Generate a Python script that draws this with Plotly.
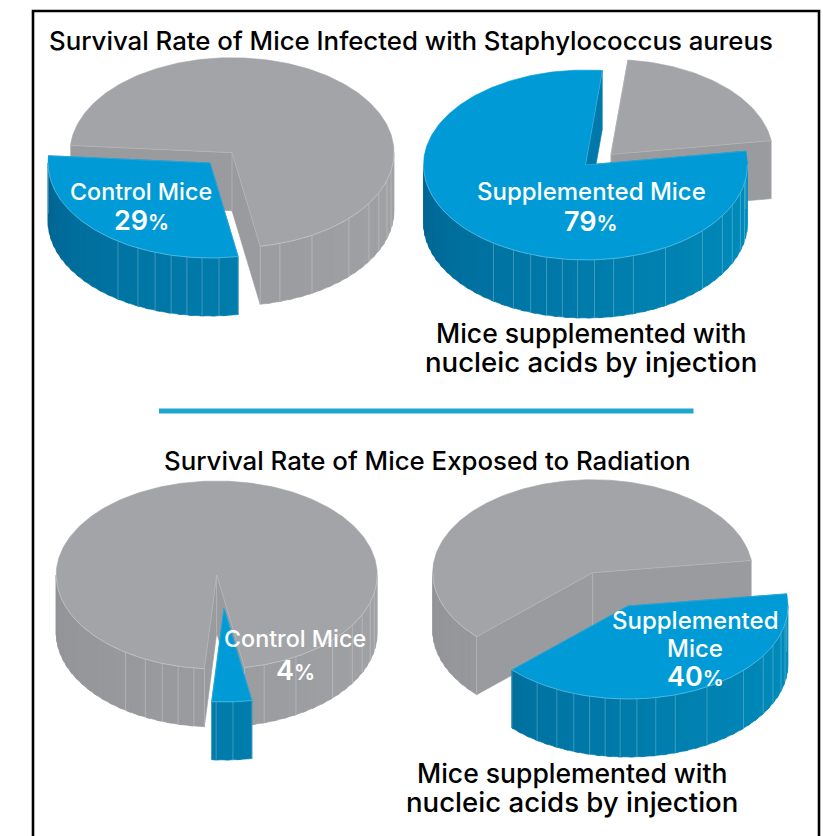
import numpy as np
import plotly.graph_objects as go

# Survival percentages for each panel
PANEL_NAMES = ["Control Mice", "Supplemented Mice", "Control Mice", "Supplemented Mice"]
SURVIVAL_PCT = [29, 79, 4, 40]

# Drawing geometry, in canvas pixels
WIDTH, HEIGHT = 823, 836
RADIUS_X = [162.0, 162.0, 160.5, 160.0]
RADIUS_Y = [95.0, 95.0, 94.0, 93.0]
DEPTH = 58.0
SLICE_START_DEG = [170, 81.6, 170, 82.5]
REST_CENTER = [(232, 152.7), (611, 154.5), (216.7, 575), (592.7, 572.7)]
SLICE_CENTER = [(210, 163), (585.5, 165), (224, 608), (628, 606)]

# Rim seams, degrees either side of the front of a pie
SEAM_DEG = [-34.6, -26.4, -19.8, -13.9, -8.2, -2.8, 3.2, 10, 17.2, 29.6, 46.2, 57.7, 65, 73, 79]

BLUE = {"top": "#009bd6", "face": "#0079aa", "dark": (0, 98, 144), "light": (0, 142, 190)}
GREY = {"top": "#a3a4a7", "face": "#9a9b9e", "dark": (146, 147, 151), "light": (161, 162, 165)}

TEXT_FONT = "Inter"


def pct_label(value):
    return f"{value}<span style='font-size:21px'>%</span>"


TEXT_ITEMS = [
    ("Survival Rate of Mice Infected with Staphylococcus aureus", 411, 40, 25.8, "black", 550),
    (PANEL_NAMES[0], 141, 191.5, 23.3, "white", 500),
    (pct_label(SURVIVAL_PCT[0]), 141, 220.5, 27, "white", 600),
    (PANEL_NAMES[1], 591, 191.5, 24, "white", 500),
    (pct_label(SURVIVAL_PCT[1]), 591, 221.5, 27, "white", 600),
    ("Mice supplemented with", 591, 333, 26.5, "black", 550),
    ("nucleic acids by injection", 591, 362, 27.6, "black", 550),
    ("Survival Rate of Mice Exposed to Radiation", 427, 460, 25.8, "black", 550),
    (PANEL_NAMES[2], 295, 638.5, 23.3, "white", 500),
    (pct_label(SURVIVAL_PCT[2]), 295, 670.5, 27, "white", 600),
    ("Supplemented", 695, 620.5, 24, "white", 500),
    ("Mice", 695, 648.5, 24, "white", 500),
    (pct_label(SURVIVAL_PCT[3]), 695, 676.5, 27, "white", 600),
    ("Mice supplemented with", 572, 773, 26.5, "black", 550),
    ("nucleic acids by injection", 572, 802, 27.6, "black", 550),
]


def rim_point(center, radii, deg, drop=0.0):
    """Point on the pie's ellipse; degrees run clockwise from the back."""
    a = np.radians(deg)
    return center[0] + radii[0] * np.sin(a), center[1] - radii[1] * np.cos(a) + drop


def polygon(xs, ys, color):
    return go.Scatter(x=list(xs), y=list(ys), mode="lines", fill="toself", fillcolor=color,
                      line=dict(color=color, width=0.6), hoverinfo="skip", showlegend=False)


def stroke(xs, ys, alpha, width=0.8):
    return go.Scatter(x=list(xs), y=list(ys), mode="lines", hoverinfo="skip", showlegend=False,
                      line=dict(color=f"rgba(255,255,255,{alpha})", width=width))


def front_spans(start, end):
    """Parts of a start..end arc that face the viewer."""
    spans = []
    for lo, hi in ((90, 270), (450, 630)):
        a, b = max(start, lo), min(end, hi)
        if b > a:
            spans.append((a, b))
    return spans


def rim_color(deg, palette):
    t = (270 - ((deg - 90) % 360 + 90)) / 180
    t = float(np.clip(t, 0, 1)) ** 0.8
    r, g, b = [d + (l - d) * t for d, l in zip(palette["dark"], palette["light"])]
    return f"rgb({r:.0f},{g:.0f},{b:.0f})"


def wedge_traces(center, radii, start, share, palette):
    end = start + share / 100 * 360
    out = []

    # Cut faces along the two straight edges
    for edge in (start, end):
        cx, cy = rim_point(center, radii, edge)
        out.append(polygon([center[0], cx, cx, center[0], center[0]],
                           [center[1], cy, cy + DEPTH, center[1] + DEPTH, center[1]],
                           palette["face"]))

    # Outer wall, shaded in narrow overlapping strips from right to left
    for a, b in front_spans(start, end):
        edges = np.append(np.arange(a, b, 4.0), b)
        for lo, hi in zip(edges[:-1], edges[1:]):
            arc = np.linspace(lo, min(hi + 1.5, b), 5)
            top_x, top_y = rim_point(center, radii, arc)
            low_x, low_y = rim_point(center, radii, arc, DEPTH)
            out.append(polygon(np.r_[top_x, low_x[::-1], top_x[0]],
                               np.r_[top_y, low_y[::-1], top_y[0]],
                               rim_color((lo + hi) / 2, palette)))
        for offset in SEAM_DEG:
            for deg in (180 - offset, 540 - offset):
                if a < deg < b:
                    sx, sy = rim_point(center, radii, deg)
                    out.append(stroke([sx, sx], [sy, sy + DEPTH], 0.3, 0.8))

    # Vertical creases where the cut faces meet the wall and each other
    for edge in (start, end):
        ex, ey = rim_point(center, radii, edge)
        out.append(stroke([ex, ex], [ey, ey + DEPTH], 0.28, 0.8))
    out.append(stroke([center[0], center[0]], [center[1], center[1] + DEPTH], 0.28, 0.8))

    # Top face
    arc = np.linspace(start, end, max(int(end - start) + 1, 6))
    ax, ay = rim_point(center, radii, arc)
    out.append(polygon(np.r_[center[0], ax, center[0]], np.r_[center[1], ay, center[1]], palette["top"]))

    # Fine highlight along the front edge and the straight edges
    for a, b in front_spans(start, end):
        fx, fy = rim_point(center, radii, np.linspace(a, b, 120))
        out.append(stroke(fx, fy, 0.4, 0.7))
    for edge in (start, end):
        ex, ey = rim_point(center, radii, edge)
        out.append(stroke([center[0], ex], [center[1], ey], 0.22, 0.7))
    return out


fig = go.Figure()
for i, pct in enumerate(SURVIVAL_PCT):
    radii = (RADIUS_X[i], RADIUS_Y[i])
    sweep_end = SLICE_START_DEG[i] + pct / 100 * 360
    fig.add_traces(wedge_traces(REST_CENTER[i], radii, sweep_end, 100 - pct, GREY))
    fig.add_traces(wedge_traces(SLICE_CENTER[i], radii, SLICE_START_DEG[i], pct, BLUE))

annotations = [
    dict(x=x, y=y, text=text, showarrow=False, xanchor="center", yanchor="middle",
         font=dict(family=TEXT_FONT, size=size, color=color, weight=weight))
    for text, x, y, size, color, weight in TEXT_ITEMS
]

fig.update_layout(
    width=WIDTH, height=HEIGHT, margin=dict(l=0, r=0, t=0, b=0),
    paper_bgcolor="white", plot_bgcolor="white", showlegend=False,
    xaxis=dict(range=[0, WIDTH], visible=False, fixedrange=True),
    yaxis=dict(range=[HEIGHT, 0], visible=False, fixedrange=True),
    annotations=annotations,
    shapes=[
        dict(type="rect", x0=33, y0=11, x1=819, y1=860, line=dict(color="black", width=2.6)),
        dict(type="rect", x0=159, y0=408.5, x1=693.5, y1=413.5, fillcolor="#1fa6cf", line=dict(width=0)),
    ],
)
fig.write_html("out.html")
